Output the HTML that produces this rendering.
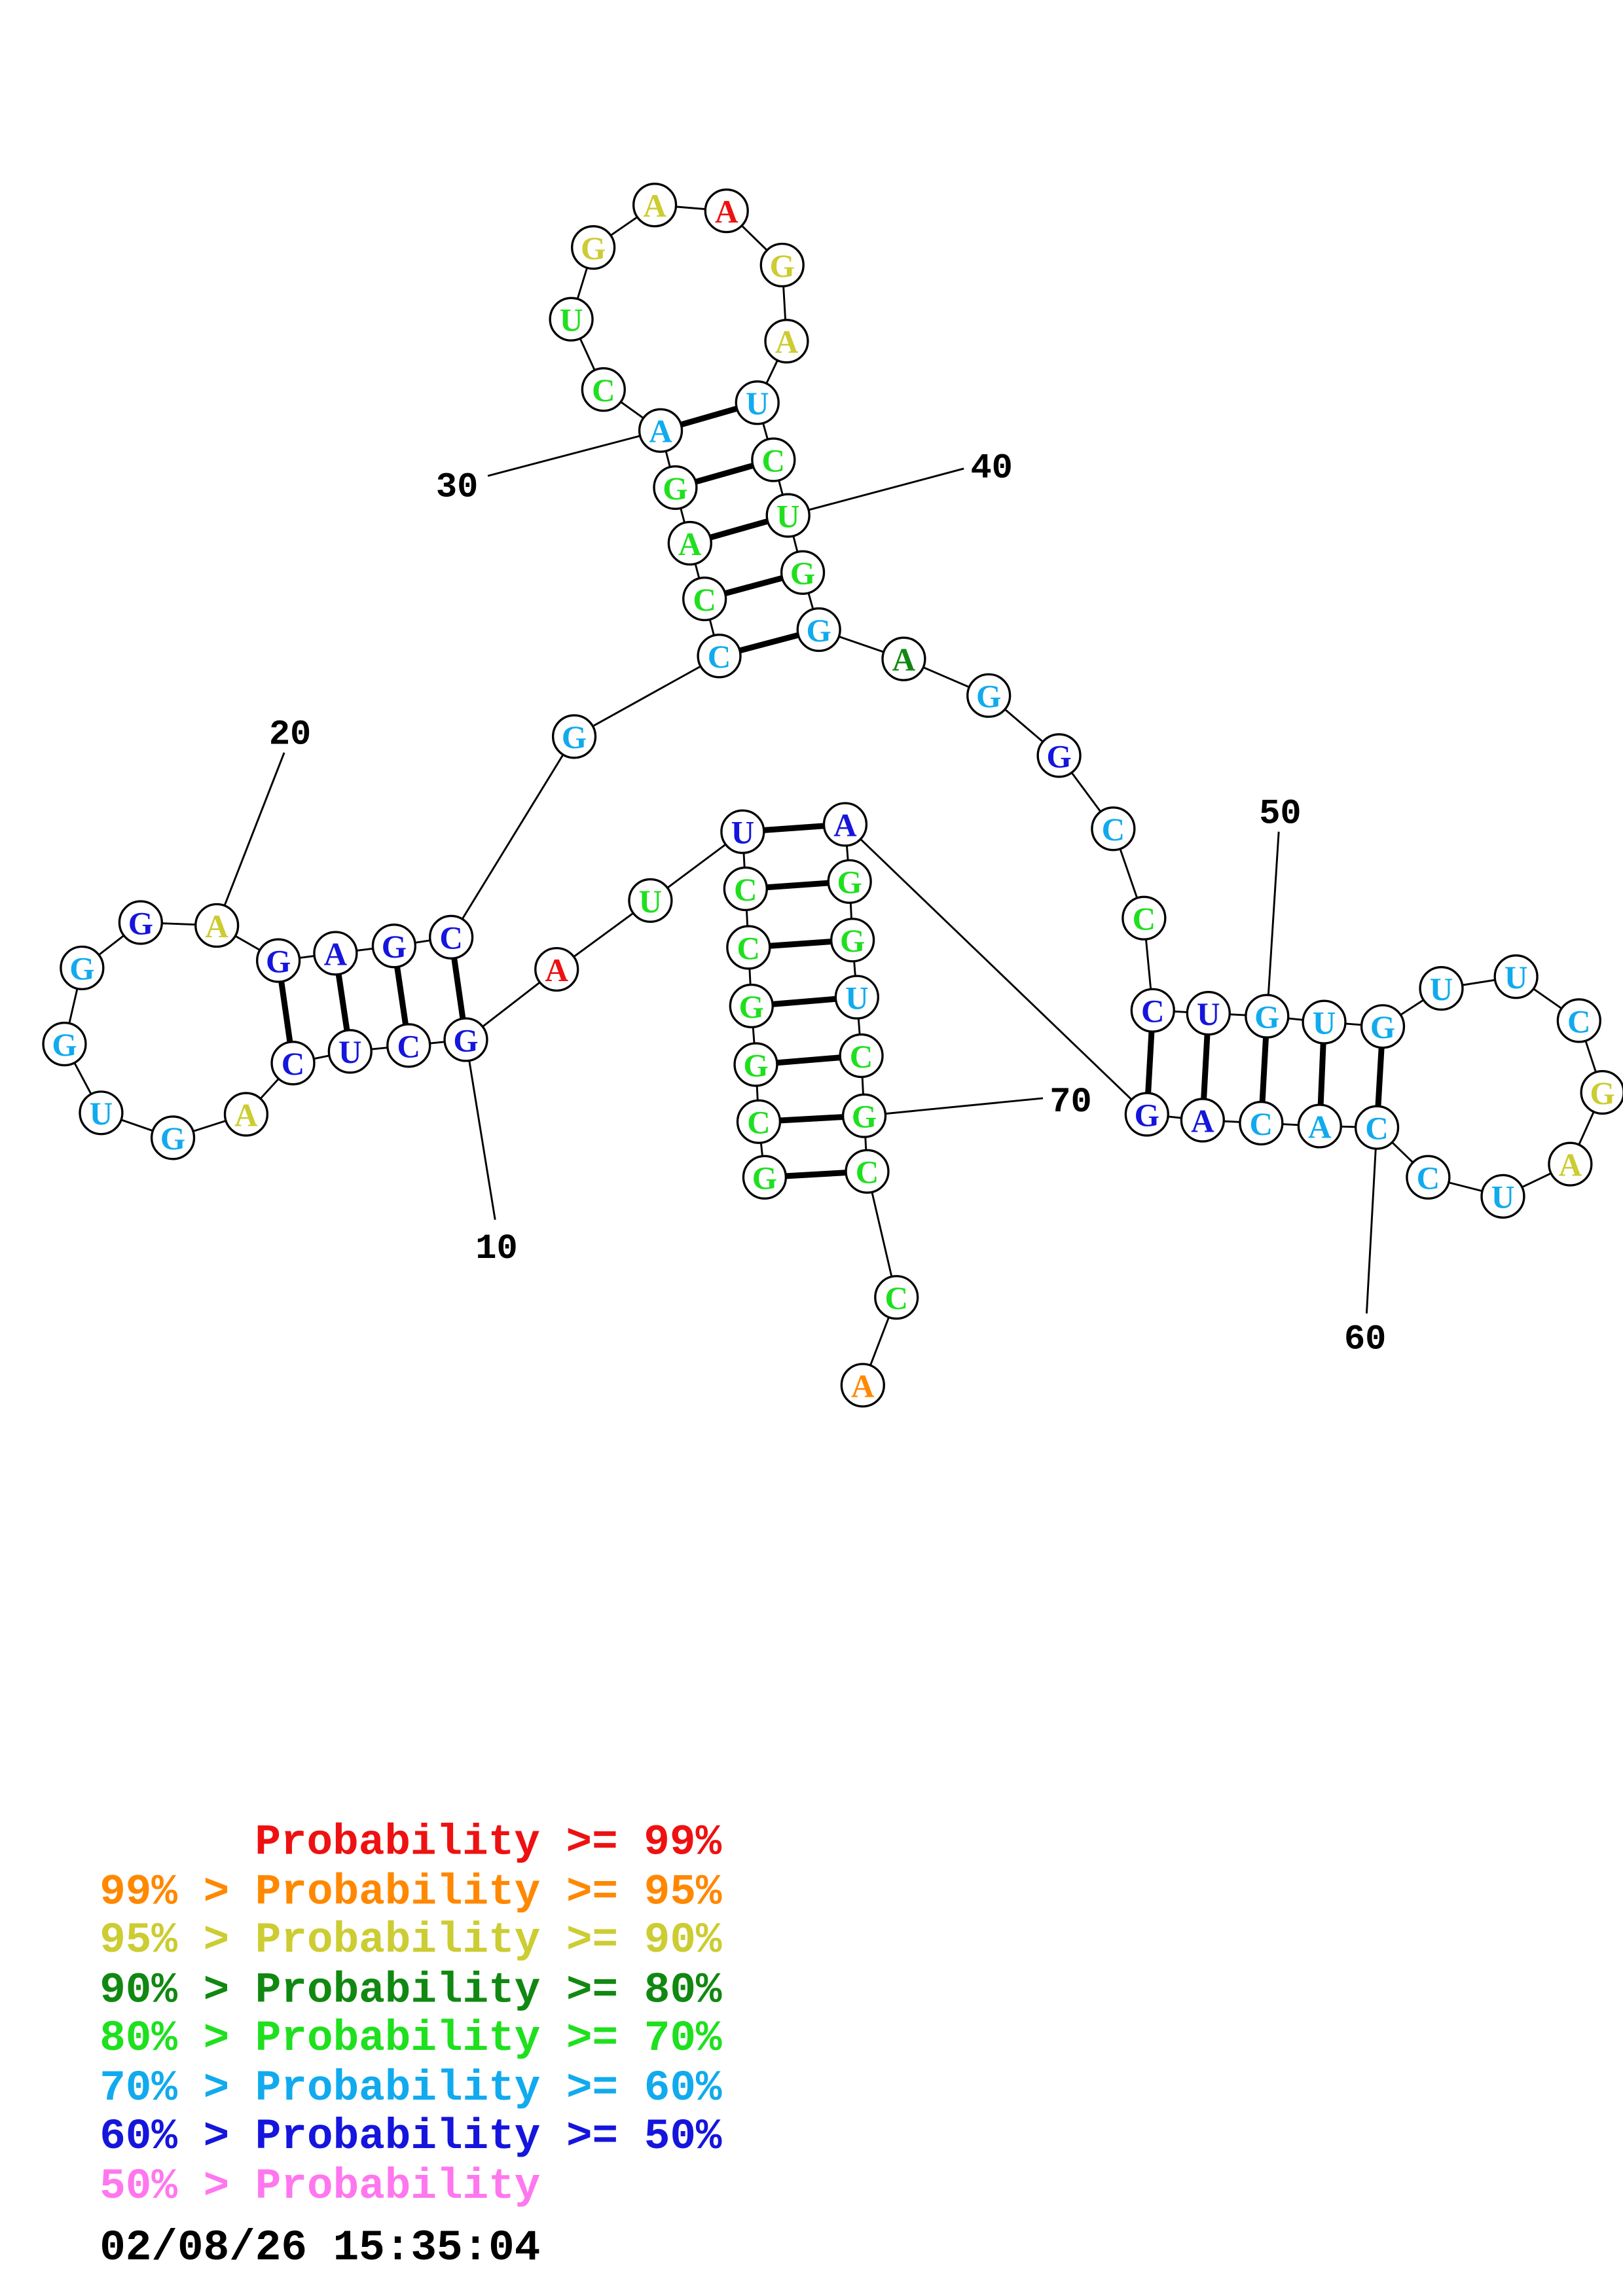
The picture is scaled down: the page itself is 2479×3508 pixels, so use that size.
<!DOCTYPE html>
<html><head><meta charset="utf-8"><style>html,body{margin:0;padding:0;background:#fff}svg{display:block}</style></head><body>
<svg width="2479" height="3508" viewBox="0 0 1108 1568" xmlns="http://www.w3.org/2000/svg">
<rect width="1108" height="1568" fill="#fff"/>
<g stroke="#000" stroke-width="1.3" fill="none">
<polyline points="522,804 518,766 516,727 513,687 511,647 509,607 507,568 444,615 380,662 318,710 279,714 239,718 200,726 168,761 118,777 69,760 44,713 56,661 96,630 148,632 190,656 229,651 269,646 308,640 392,503 491,448 481,409 471,371 461,333 451,294 412,266 390,218 405,169 447,140 496,144 534,181 537,233 517,275 528,314 538,352 548,391 559,430 617,450 675,475 723,516 760,566 781,627 787,690 825,692 865,694 904,698 944,701 984,675 1035,667 1078,697 1094,746 1072,795 1026,817 975,804 940,770 901,769 861,767 821,765 783,761 577,563 580,602 582,642 585,681 588,721 590,762 592,800 612,886 589,946"/>
<line x1="318" y1="710" x2="338" y2="833"/>
<line x1="148" y1="632" x2="194" y2="514"/>
<line x1="451" y1="294" x2="333" y2="325"/>
<line x1="538" y1="352" x2="658" y2="320"/>
<line x1="865" y1="694" x2="873" y2="568"/>
<line x1="940" y1="770" x2="933" y2="897"/>
<line x1="590" y1="762" x2="712" y2="750"/>
</g>
<g stroke="#000" stroke-width="4">
<line x1="522" y1="804" x2="592" y2="800"/><line x1="518" y1="766" x2="590" y2="762"/><line x1="516" y1="727" x2="588" y2="721"/><line x1="513" y1="687" x2="585" y2="681"/><line x1="511" y1="647" x2="582" y2="642"/><line x1="509" y1="607" x2="580" y2="602"/><line x1="507" y1="568" x2="577" y2="563"/>
<line x1="318" y1="710" x2="308" y2="640"/><line x1="279" y1="714" x2="269" y2="646"/><line x1="239" y1="718" x2="229" y2="651"/><line x1="200" y1="726" x2="190" y2="656"/>
<line x1="491" y1="448" x2="559" y2="430"/><line x1="481" y1="409" x2="548" y2="391"/><line x1="471" y1="371" x2="538" y2="352"/><line x1="461" y1="333" x2="528" y2="314"/><line x1="451" y1="294" x2="517" y2="275"/>
<line x1="787" y1="690" x2="783" y2="761"/><line x1="825" y1="692" x2="821" y2="765"/><line x1="865" y1="694" x2="861" y2="767"/><line x1="904" y1="698" x2="901" y2="769"/><line x1="944" y1="701" x2="940" y2="770"/>
</g>
<g stroke="#000" stroke-width="1.5" fill="#fff">
<circle cx="522" cy="804" r="14.5"/><circle cx="518" cy="766" r="14.5"/><circle cx="516" cy="727" r="14.5"/><circle cx="513" cy="687" r="14.5"/><circle cx="511" cy="647" r="14.5"/><circle cx="509" cy="607" r="14.5"/><circle cx="507" cy="568" r="14.5"/><circle cx="444" cy="615" r="14.5"/><circle cx="380" cy="662" r="14.5"/><circle cx="318" cy="710" r="14.5"/><circle cx="279" cy="714" r="14.5"/><circle cx="239" cy="718" r="14.5"/><circle cx="200" cy="726" r="14.5"/><circle cx="168" cy="761" r="14.5"/><circle cx="118" cy="777" r="14.5"/><circle cx="69" cy="760" r="14.5"/><circle cx="44" cy="713" r="14.5"/><circle cx="56" cy="661" r="14.5"/><circle cx="96" cy="630" r="14.5"/><circle cx="148" cy="632" r="14.5"/><circle cx="190" cy="656" r="14.5"/><circle cx="229" cy="651" r="14.5"/><circle cx="269" cy="646" r="14.5"/><circle cx="308" cy="640" r="14.5"/><circle cx="392" cy="503" r="14.5"/><circle cx="491" cy="448" r="14.5"/><circle cx="481" cy="409" r="14.5"/><circle cx="471" cy="371" r="14.5"/><circle cx="461" cy="333" r="14.5"/><circle cx="451" cy="294" r="14.5"/><circle cx="412" cy="266" r="14.5"/><circle cx="390" cy="218" r="14.5"/><circle cx="405" cy="169" r="14.5"/><circle cx="447" cy="140" r="14.5"/><circle cx="496" cy="144" r="14.5"/><circle cx="534" cy="181" r="14.5"/><circle cx="537" cy="233" r="14.5"/><circle cx="517" cy="275" r="14.5"/><circle cx="528" cy="314" r="14.5"/><circle cx="538" cy="352" r="14.5"/><circle cx="548" cy="391" r="14.5"/><circle cx="559" cy="430" r="14.5"/><circle cx="617" cy="450" r="14.5"/><circle cx="675" cy="475" r="14.5"/><circle cx="723" cy="516" r="14.5"/><circle cx="760" cy="566" r="14.5"/><circle cx="781" cy="627" r="14.5"/><circle cx="787" cy="690" r="14.5"/><circle cx="825" cy="692" r="14.5"/><circle cx="865" cy="694" r="14.5"/><circle cx="904" cy="698" r="14.5"/><circle cx="944" cy="701" r="14.5"/><circle cx="984" cy="675" r="14.5"/><circle cx="1035" cy="667" r="14.5"/><circle cx="1078" cy="697" r="14.5"/><circle cx="1094" cy="746" r="14.5"/><circle cx="1072" cy="795" r="14.5"/><circle cx="1026" cy="817" r="14.5"/><circle cx="975" cy="804" r="14.5"/><circle cx="940" cy="770" r="14.5"/><circle cx="901" cy="769" r="14.5"/><circle cx="861" cy="767" r="14.5"/><circle cx="821" cy="765" r="14.5"/><circle cx="783" cy="761" r="14.5"/><circle cx="577" cy="563" r="14.5"/><circle cx="580" cy="602" r="14.5"/><circle cx="582" cy="642" r="14.5"/><circle cx="585" cy="681" r="14.5"/><circle cx="588" cy="721" r="14.5"/><circle cx="590" cy="762" r="14.5"/><circle cx="592" cy="800" r="14.5"/><circle cx="612" cy="886" r="14.5"/><circle cx="589" cy="946" r="14.5"/>
</g>
<g font-family="Liberation Serif, serif" font-weight="bold" font-size="22" text-anchor="middle">
<text x="522" y="812" fill="#1ee01e">G</text><text x="518" y="774" fill="#1ee01e">C</text><text x="516" y="735" fill="#1ee01e">G</text><text x="513" y="695" fill="#1ee01e">G</text><text x="511" y="655" fill="#1ee01e">C</text><text x="509" y="615" fill="#1ee01e">C</text><text x="507" y="576" fill="#1515dd">U</text><text x="444" y="623" fill="#1ee01e">U</text><text x="380" y="670" fill="#ee1111">A</text><text x="318" y="718" fill="#1515dd">G</text><text x="279" y="722" fill="#1515dd">C</text><text x="239" y="726" fill="#1515dd">U</text><text x="200" y="734" fill="#1515dd">C</text><text x="168" y="769" fill="#cccc33">A</text><text x="118" y="785" fill="#11aaee">G</text><text x="69" y="768" fill="#11aaee">U</text><text x="44" y="721" fill="#11aaee">G</text><text x="56" y="669" fill="#11aaee">G</text><text x="96" y="638" fill="#1515dd">G</text><text x="148" y="640" fill="#cccc33">A</text><text x="190" y="664" fill="#1515dd">G</text><text x="229" y="659" fill="#1515dd">A</text><text x="269" y="654" fill="#1515dd">G</text><text x="308" y="648" fill="#1515dd">C</text><text x="392" y="511" fill="#11aaee">G</text><text x="491" y="456" fill="#11aaee">C</text><text x="481" y="417" fill="#1ee01e">C</text><text x="471" y="379" fill="#1ee01e">A</text><text x="461" y="341" fill="#1ee01e">G</text><text x="451" y="302" fill="#11aaee">A</text><text x="412" y="274" fill="#1ee01e">C</text><text x="390" y="226" fill="#1ee01e">U</text><text x="405" y="177" fill="#cccc33">G</text><text x="447" y="148" fill="#cccc33">A</text><text x="496" y="152" fill="#ee1111">A</text><text x="534" y="189" fill="#cccc33">G</text><text x="537" y="241" fill="#cccc33">A</text><text x="517" y="283" fill="#11aaee">U</text><text x="528" y="322" fill="#1ee01e">C</text><text x="538" y="360" fill="#1ee01e">U</text><text x="548" y="399" fill="#1ee01e">G</text><text x="559" y="438" fill="#11aaee">G</text><text x="617" y="458" fill="#118811">A</text><text x="675" y="483" fill="#11aaee">G</text><text x="723" y="524" fill="#1515dd">G</text><text x="760" y="574" fill="#11aaee">C</text><text x="781" y="635" fill="#1ee01e">C</text><text x="787" y="698" fill="#1515dd">C</text><text x="825" y="700" fill="#1515dd">U</text><text x="865" y="702" fill="#11aaee">G</text><text x="904" y="706" fill="#11aaee">U</text><text x="944" y="709" fill="#11aaee">G</text><text x="984" y="683" fill="#11aaee">U</text><text x="1035" y="675" fill="#11aaee">U</text><text x="1078" y="705" fill="#11aaee">C</text><text x="1094" y="754" fill="#cccc33">G</text><text x="1072" y="803" fill="#cccc33">A</text><text x="1026" y="825" fill="#11aaee">U</text><text x="975" y="812" fill="#11aaee">C</text><text x="940" y="778" fill="#11aaee">C</text><text x="901" y="777" fill="#11aaee">A</text><text x="861" y="775" fill="#11aaee">C</text><text x="821" y="773" fill="#1515dd">A</text><text x="783" y="769" fill="#1515dd">G</text><text x="577" y="571" fill="#1515dd">A</text><text x="580" y="610" fill="#1ee01e">G</text><text x="582" y="650" fill="#1ee01e">G</text><text x="585" y="689" fill="#11aaee">U</text><text x="588" y="729" fill="#1ee01e">C</text><text x="590" y="770" fill="#1ee01e">G</text><text x="592" y="808" fill="#1ee01e">C</text><text x="612" y="894" fill="#1ee01e">C</text><text x="589" y="954" fill="#ff8800">A</text>
</g>
<g font-family="Liberation Mono, monospace" font-weight="bold" font-size="24" text-anchor="middle" fill="#000">
<text x="339" y="859">10</text><text x="198" y="508">20</text><text x="312" y="339">30</text><text x="677" y="326">40</text><text x="874" y="562">50</text><text x="932" y="921">60</text><text x="731" y="759">70</text>
</g>
<g font-family="Liberation Mono, monospace" font-weight="bold" font-size="29.5">
<text x="174" y="1266" fill="#ee1111">Probability &gt;= 99%</text>
<text x="68" y="1300" fill="#ff8800">99% &gt; Probability &gt;= 95%</text>
<text x="68" y="1333" fill="#cccc33">95% &gt; Probability &gt;= 90%</text>
<text x="68" y="1367" fill="#118811">90% &gt; Probability &gt;= 80%</text>
<text x="68" y="1400" fill="#1ee01e">80% &gt; Probability &gt;= 70%</text>
<text x="68" y="1434" fill="#11aaee">70% &gt; Probability &gt;= 60%</text>
<text x="68" y="1467" fill="#1515dd">60% &gt; Probability &gt;= 50%</text>
<text x="68" y="1501" fill="#ff77ee">50% &gt; Probability</text>
<text x="68" y="1543" fill="#000">02/08/26 15:35:04</text>
</g>
</svg>
</body></html>
